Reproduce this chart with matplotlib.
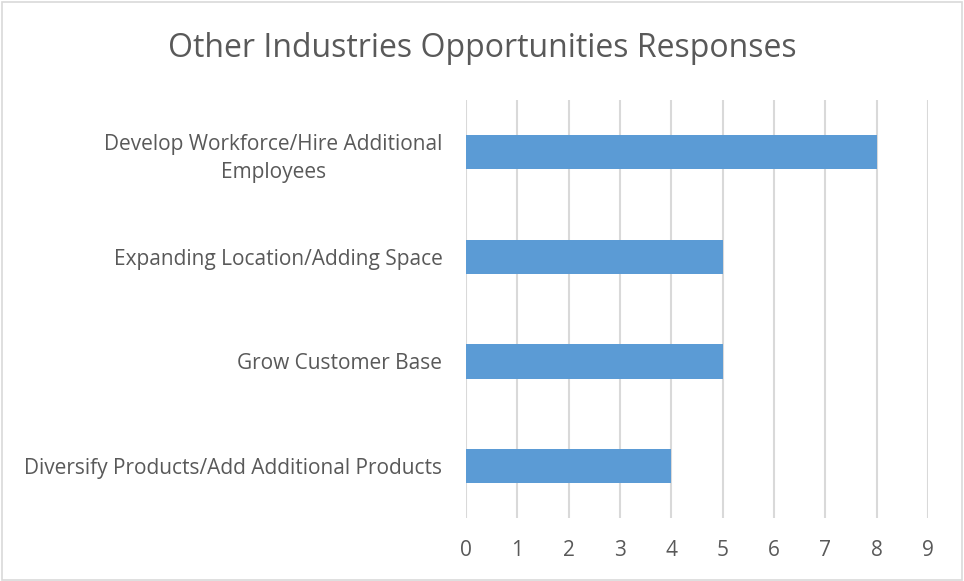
import matplotlib
matplotlib.use("Agg")
import matplotlib.pyplot as plt
from matplotlib.patches import Rectangle

# Survey responses, listed top to bottom
categories = [
    "Develop Workforce/Hire Additional\nEmployees",
    "Expanding Location/Adding Space",
    "Grow Customer Base",
    "Diversify Products/Add Additional Products",
]
responses = [8, 5, 5, 4]
x_ticks = list(range(0, 10))

TEXT = "#595959"
GRID = "#d9d9d9"
BAR = "#5b9bd5"

plt.rcParams["font.family"] = ["Open Sans", "DejaVu Sans"]

fig = plt.figure(figsize=(9.64, 5.81), dpi=100)
ax = fig.add_axes([0.4834, 0.1084, 0.4793, 0.7195])

ypos = list(range(len(categories)))[::-1]
ax.barh(ypos, responses, height=0.33, color=BAR, zorder=3)

ax.set_xlim(0, 9)
ax.set_ylim(-0.5, len(categories) - 0.5)
ax.set_xticks(x_ticks)
ax.set_yticks(ypos)
ax.set_yticklabels(categories, ha="right", multialignment="center",
                   linespacing=1.45)
ax.grid(axis="x", color=GRID, linewidth=1.5, zorder=0)
for s in ax.spines.values():
    s.set_visible(False)
ax.tick_params(axis="both", length=0, labelcolor=TEXT, labelsize=15)
ax.tick_params(axis="x", pad=16)
ax.tick_params(axis="y", pad=17)

fig.text(0.5, 0.917, "Other Industries Opportunities Responses",
         ha="center", va="center", fontsize=23, color=TEXT)

# thin frame around the whole chart
fig.patches.append(Rectangle((0.002, 0.002), 0.996, 0.994, transform=fig.transFigure,
                             fill=False, edgecolor=GRID, linewidth=1.2))

fig.savefig("out.png", dpi=100, facecolor="white")
